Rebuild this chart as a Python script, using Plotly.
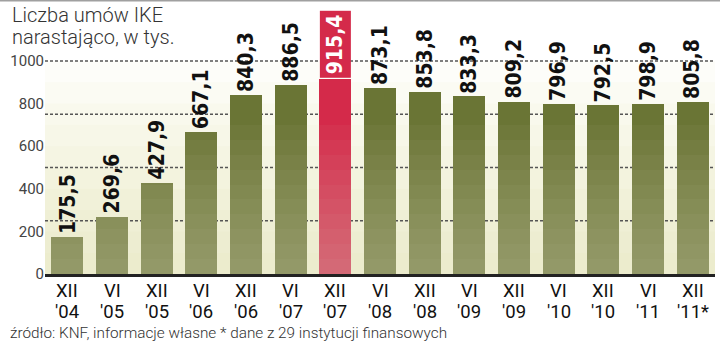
import numpy as np
import plotly.graph_objects as go

# ---- data ----
values = [175.5, 269.6, 427.9, 667.1, 840.3, 886.5, 915.4, 873.1, 853.8,
          833.3, 809.2, 796.9, 792.5, 798.9, 805.8]
months = ["XII", "VI", "XII", "VI", "XII", "VI", "XII", "VI", "XII",
          "VI", "XII", "VI", "XII", "VI", "XII"]
years = ["'04", "'05", "'05", "'06", "'06", "'07", "'07", "'08", "'08",
         "'09", "'09", "'10", "'10", "'11", "'11*"]
highlight = 6
y_ticks = [0, 200, 400, 600, 800, 1000]
grid_levels = [250, 500, 750, 1000]

title_lines = ["Liczba umów IKE", "narastająco, w tys."]
source = "źródło: KNF, informacje własne * dane z 29 instytucji finansowych"

# ---- styling ----
OLIVE = "#6a7535"
RED = "#d42a4a"
x = list(range(len(values)))
labels = [f"{v:.1f}".replace(".", ",") for v in values]
colors = [RED if i == highlight else OLIVE for i in x]
BW = 0.716

fig = go.Figure()
fig.add_trace(go.Bar(x=x, y=values, width=BW, marker=dict(color=colors, line=dict(width=0)),
                     hoverinfo="skip", showlegend=False))

# light overlays to emulate the vertical gradient inside bars
vals = np.array(values)
for lvl in np.linspace(70, 700, 10):
    fig.add_trace(go.Bar(x=x, y=np.minimum(vals, lvl), width=BW,
                         marker=dict(color="rgba(240,242,210,0.045)", line=dict(width=0)),
                         hoverinfo="skip", showlegend=False))

shapes = []
# background gradient (cream at bottom -> white at top)
for lvl in np.linspace(100, 1000, 10):
    shapes.append(dict(type="rect", xref="paper", yref="y", x0=0, x1=1, y0=0, y1=lvl,
                       fillcolor="rgba(220,226,150,0.058)", line=dict(width=0), layer="below"))
# dashed grid lines
for g in grid_levels:
    shapes.append(dict(type="line", xref="paper", yref="y", x0=0, x1=1, y0=g, y1=g,
                       line=dict(color="#555", width=1.5, dash="3px,2px"), layer="below"))
# top border
shapes.append(dict(type="line", xref="paper", yref="paper", x0=-0.07, x1=1.01, y0=1, y1=1,
                   line=dict(color="#a0a0a0", width=3)))

annotations = []
for i, (v, t) in enumerate(zip(values, labels)):
    hl = i == highlight
    ann = dict(x=i, y=v, xref="x", yref="y", text=t, showarrow=False,
               textangle=-90, yanchor="bottom", xanchor="center", yshift=1,
               font=dict(family="DejaVu Sans Condensed", size=21,
                         color="white" if hl else "#111", weight="bold"))
    if hl:
        ann.update(bgcolor=RED, borderpad=3)
    annotations.append(ann)

# two-line category labels
for i, (m, yv) in enumerate(zip(months, years)):
    annotations.append(dict(x=i, y=0, xref="x", yref="paper", text=m, showarrow=False,
                            yanchor="middle", yshift=-16.5,
                            font=dict(family="Roboto", size=18.5, color="#111")))
    annotations.append(dict(x=i, y=0, xref="x", yref="paper", text=yv, showarrow=False,
                            yanchor="middle", yshift=-37.5,
                            font=dict(family="Roboto", size=18.5, color="#111")))

W, H = 720, 342
ML, MR, MT, MB = 45, 5, 0, 68
pw, ph = W - ML - MR, H - MT - MB
for k, line in enumerate(title_lines):
    annotations.append(dict(x=(10 - ML) / pw, y=1 - (15 + 22 * k - MT) / ph,
                            xref="paper", yref="paper", text=line,
                            showarrow=False, xanchor="left", yanchor="middle",
                            font=dict(family="Roboto", size=20, color="#333", weight=300)))
annotations.append(dict(x=(8 - ML) / pw, y=1 - (332.5 - MT) / ph, xref="paper", yref="paper",
                        text=source, showarrow=False, xanchor="left", yanchor="middle",
                        font=dict(family="Roboto", size=15.3, color="#333", weight=300)))

fig.update_layout(
    width=W, height=H, margin=dict(l=ML, r=MR, t=MT, b=MB),
    paper_bgcolor="white", plot_bgcolor="white",
    barmode="overlay", bargap=0, showlegend=False,
    shapes=shapes, annotations=annotations,
    xaxis=dict(range=[-0.5, len(values) - 0.5], showticklabels=False, ticks="",
               showgrid=False, zeroline=False, showline=True, linewidth=3, linecolor="#222",
               fixedrange=True),
    yaxis=dict(range=[0, 1286], tickvals=y_ticks, ticktext=[str(t) for t in y_ticks],
               tickfont=dict(family="Roboto", size=15, color="#444"), ticks="",
               showgrid=False, zeroline=False, showline=False, fixedrange=True),
)

fig.write_html("out.html")
